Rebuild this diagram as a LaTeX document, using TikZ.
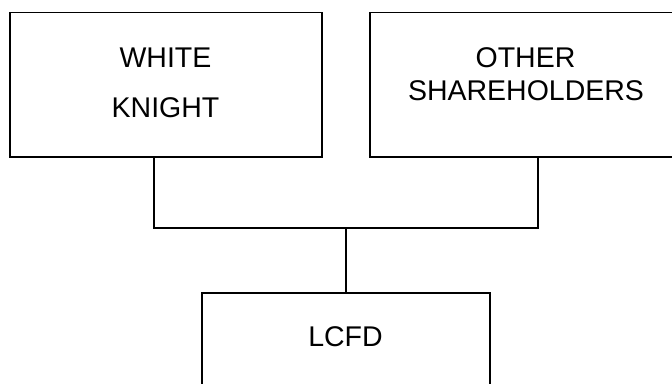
\documentclass[tikz,border=0pt]{standalone}
\usepackage{fontspec}
\setmainfont{Liberation Sans}
\begin{document}
\begin{tikzpicture}[x=1pt,y=-1pt,
  box/.style={draw=black, line width=1.8pt, rectangle, inner sep=0pt},
  lbl/.style={anchor=base, inner sep=0pt, font=\fontsize{28.5}{32}\selectfont},
  conn/.style={draw=black, line width=1.8pt}]
\useasboundingbox (0,0) rectangle (672,383);
\clip (0,0) rectangle (672,383);
\node[box, minimum width=312pt, minimum height=144.5pt] (wk) at (166,84.75) {};
\node[box, minimum width=312pt, minimum height=144.5pt] (os) at (526,84.75) {};
\node[box, minimum width=288pt, minimum height=160pt] (lc) at (346,373) {};
\node[lbl] (t1) at (165.5,67) {WHITE};
\node[lbl] (t2) at (165.5,117) {KNIGHT};
\node[lbl] (t3) at (525.5,67) {OTHER};
\node[lbl] (t4) at (526,100) {SHAREHOLDERS};
\node[lbl] (t5) at (345.5,346.5) {LCFD};
\coordinate (j) at (346,228);
\draw[conn] ([xshift=-12pt]wk.south) |- (j) -| ([xshift=12pt]os.south);
\draw[conn] (j) -- (lc.north);
\end{tikzpicture}
\end{document}
